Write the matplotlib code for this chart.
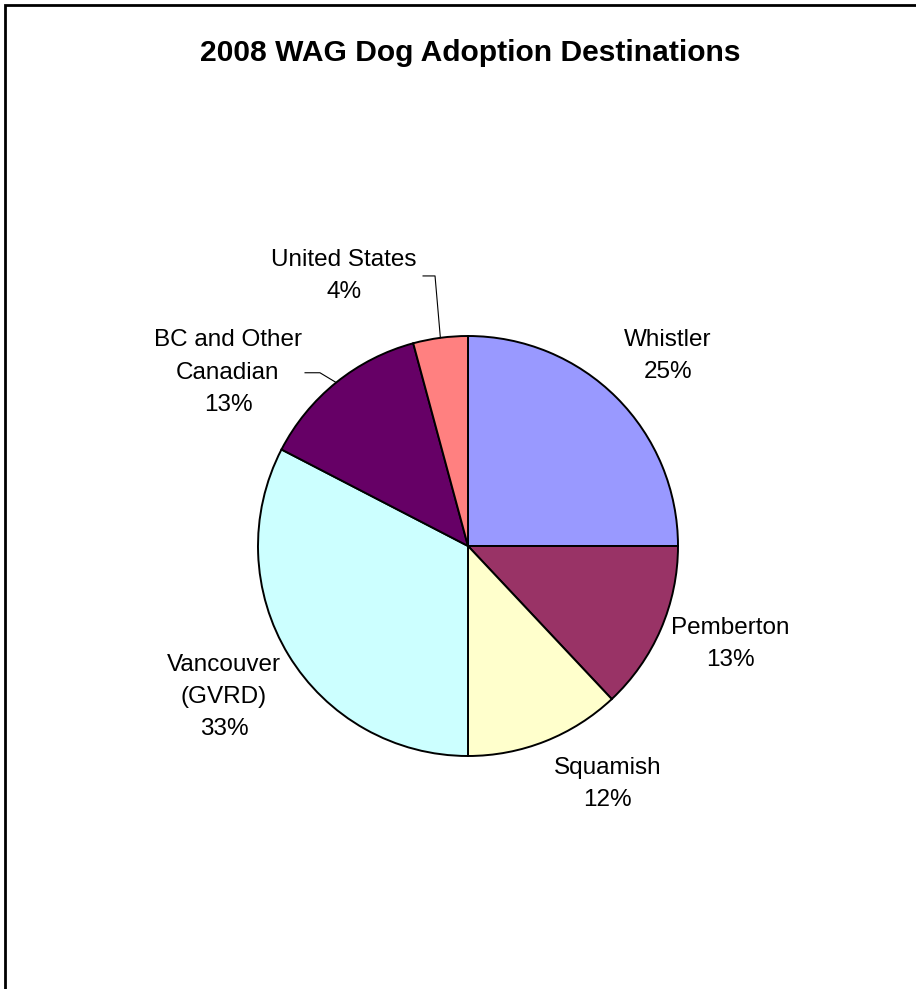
import matplotlib
matplotlib.use('Agg')
import matplotlib.pyplot as plt
from matplotlib.patches import Rectangle
import numpy as np

plt.rcParams['font.family'] = ['Liberation Sans', 'DejaVu Sans']

# data
regions = ['Whistler', 'Pemberton', 'Squamish', 'Vancouver\n(GVRD)',
           'BC and Other\nCanadian', 'United States']
shares = [25.0, 13.0, 12.0, 32.6, 13.2, 4.2]
colors = ['#9999FF', '#993366', '#FFFFCC', '#CCFFFF', '#660066', '#FF8080']

# label layout (centre of text block, in pie-radius units)
label_xy = [(0.952, 0.905), (1.248, -0.467), (0.664, -1.134),
            (-1.162, -0.719), (-1.143, 0.826), (-0.590, 1.285)]
# leader lines: elbow points for the two small labels
leaders = {5: [(-0.214, 1.286), (-0.157, 1.286)],
           4: [(-0.776, 0.825), (-0.705, 0.825)]}

W, H = 916, 989
fig = plt.figure(figsize=(W / 100, H / 100), dpi=100)

# chart border (runs off the right and bottom of the picture)
fig.add_artist(Rectangle((5 / W, -0.1), 1.2, 1 - 5 / H + 0.1, fill=False,
                         edgecolor='black', linewidth=2.0,
                         transform=fig.transFigure))

fig.text(470 / W, 1 - 53 / H, '2008 WAG Dog Adoption Destinations',
         ha='center', va='center', fontsize=21.6, fontweight='bold')

cx, cy, r = 468, 546, 210
ax = fig.add_axes([(cx - r) / W, (H - cy - r) / H, 2 * r / W, 2 * r / H])
wedges, _ = ax.pie(shares, colors=colors, startangle=90, counterclock=False,
                   radius=1, wedgeprops=dict(edgecolor='black', linewidth=1.4))
ax.set_xlim(-1, 1)
ax.set_ylim(-1, 1)
ax.set_aspect('auto')
ax.axis('off')

for i, (w, name, v) in enumerate(zip(wedges, regions, shares)):
    lx, ly = label_xy[i]
    ax.text(lx, ly, f'{name}\n{round(v)}%', ha='center', va='center',
            fontsize=17.5, linespacing=1.6, clip_on=False)
    if i in leaders:
        mid = np.deg2rad((w.theta1 + w.theta2) / 2)
        pts = leaders[i] + [(np.cos(mid), np.sin(mid))]
        xs, ys = zip(*pts)
        ax.plot(xs, ys, color='black', linewidth=0.8, clip_on=False)

fig.savefig('out.png', dpi=100)
